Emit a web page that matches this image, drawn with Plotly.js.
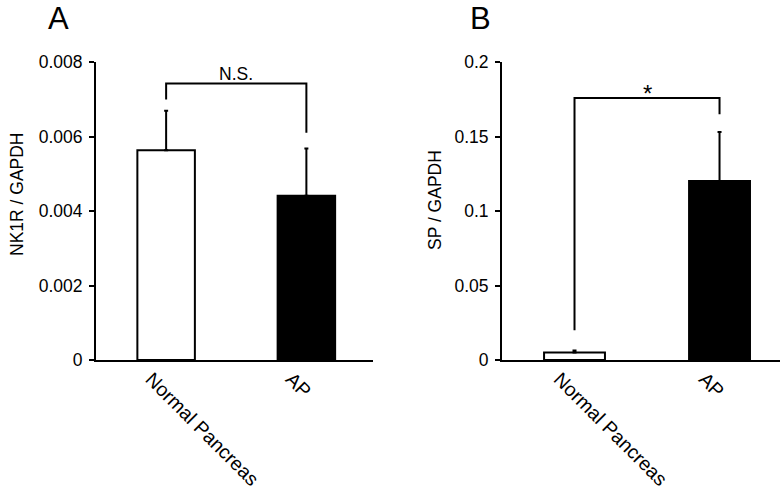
<!DOCTYPE html>
<html>
<head>
<meta charset="utf-8">
<script src="https://cdn.plot.ly/plotly-3.0.1.min.js"></script>
<style>html,body{margin:0;padding:0;background:#fff;}#chart{width:782px;height:494px;}</style>
</head>
<body>
<div id="chart"></div>
<script>
// ---- data ----
var categories = ['Normal Pancreas', 'AP'];
var nk1rMean = [0.00563, 0.00441];
var nk1rErr = [0.00106, 0.00127];
var spMean = [0.0051, 0.1201];
var spErr = [0.0013, 0.033];
var barColors = ['white', 'black'];
var nk1rYTicks = [0, 0.002, 0.004, 0.006, 0.008];
var spYTicks = [0, 0.05, 0.1, 0.15, 0.2];
var bracketA = {top: 0.00742, legs: [0.00699, 0.0061], label: 'N.S.'};
var bracketB = {top: 0.1758, legs: [0.0199, 0.165], label: '*'};

var FONT = 'Liberation Sans, Arial, sans-serif';
var W = 782, H = 494;
function px(x) { return x / W; }
function py(y) { return (H - y) / H; }

var traces = [
  {
    type: 'bar', x: [0, 1], y: nk1rMean, width: 0.41,
    marker: {color: barColors, line: {color: 'black', width: 2}},
    error_y: {type: 'data', array: nk1rErr, arrayminus: [0, 0], symmetric: false,
              color: 'black', thickness: 2, width: 2},
    xaxis: 'x', yaxis: 'y', hoverinfo: 'none'
  },
  {
    type: 'bar', x: [0, 1], y: spMean, width: 0.42,
    marker: {color: barColors, line: {color: 'black', width: 2}},
    error_y: {type: 'data', array: spErr, arrayminus: [0, 0], symmetric: false,
              color: 'black', thickness: 2, width: 2},
    xaxis: 'x2', yaxis: 'y2', hoverinfo: 'none'
  }
];

function bracketShape(b, xr, yr) {
  return {
    type: 'path', xref: xr, yref: yr,
    path: 'M 0 ' + b.legs[0] + ' L 0 ' + b.top + ' L 1 ' + b.top + ' L 1 ' + b.legs[1],
    line: {color: 'black', width: 2}
  };
}

var xBase = {
  tickmode: 'array', tickvals: [0, 1], ticktext: categories, tickangle: 45,
  showline: true, linecolor: 'black', linewidth: 2, ticks: '', showgrid: false, zeroline: false,
  tickfont: {family: FONT, size: 19.5, color: 'black'}, fixedrange: true,
  ticklabelshift: -15, ticklabelstandoff: -2
};
var yBase = {
  showline: true, linecolor: 'black', linewidth: 2, ticks: 'outside', ticklen: 5, tickwidth: 2,
  tickcolor: 'black', showgrid: false, zeroline: false,
  tickfont: {family: FONT, size: 17.5, color: 'black'}, fixedrange: true,
  ticklabelstandoff: 3
};

var layout = {
  width: W, height: H,
  margin: {l: 0, r: 0, t: 0, b: 0},
  paper_bgcolor: 'white', plot_bgcolor: 'white',
  showlegend: false,
  font: {family: FONT, color: 'black'},
  xaxis: Object.assign({}, xBase, {domain: [px(96), px(373)], range: [-0.5, 1.475], anchor: 'y'}),
  xaxis2: Object.assign({}, xBase, {domain: [px(502), px(780)], range: [-0.5, 1.417], anchor: 'y2'}),
  yaxis: Object.assign({}, yBase, {domain: [py(360), py(62)], range: [0, 0.008],
                                   tickmode: 'array', tickvals: nk1rYTicks, anchor: 'x'}),
  yaxis2: Object.assign({}, yBase, {domain: [py(360), py(62)], range: [0, 0.2],
                                    tickmode: 'array', tickvals: spYTicks, anchor: 'x2'}),
  shapes: [bracketShape(bracketA, 'x', 'y'), bracketShape(bracketB, 'x2', 'y2')],
  annotations: [
    {xref: 'x', yref: 'y', x: 0.5, y: bracketA.top, text: bracketA.label, showarrow: false,
     yanchor: 'bottom', yshift: -2, font: {family: FONT, size: 17.5, color: 'black'}},
    {xref: 'x2', yref: 'y2', x: 0.5, y: bracketB.top, text: bracketB.label, showarrow: false,
     yanchor: 'bottom', yshift: -11, font: {family: FONT, size: 24, color: 'black'}},
    {xref: 'paper', yref: 'paper', x: px(17), y: py(194), text: 'NK1R / GAPDH', textangle: -90,
     showarrow: false, xanchor: 'center', yanchor: 'middle', font: {family: FONT, size: 17.5, color: 'black'}},
    {xref: 'paper', yref: 'paper', x: px(435), y: py(200), text: 'SP / GAPDH', textangle: -90,
     showarrow: false, xanchor: 'center', yanchor: 'middle', font: {family: FONT, size: 17.5, color: 'black'}},
    {xref: 'paper', yref: 'paper', x: px(58), y: py(18), text: 'A', showarrow: false,
     xanchor: 'center', yanchor: 'middle', font: {family: FONT, size: 31, color: 'black'}},
    {xref: 'paper', yref: 'paper', x: px(480), y: py(18), text: 'B', showarrow: false,
     xanchor: 'center', yanchor: 'middle', font: {family: FONT, size: 31, color: 'black'}}
  ]
};

Plotly.newPlot('chart', traces, layout, {displayModeBar: false, staticPlot: true});
</script>
</body>
</html>
